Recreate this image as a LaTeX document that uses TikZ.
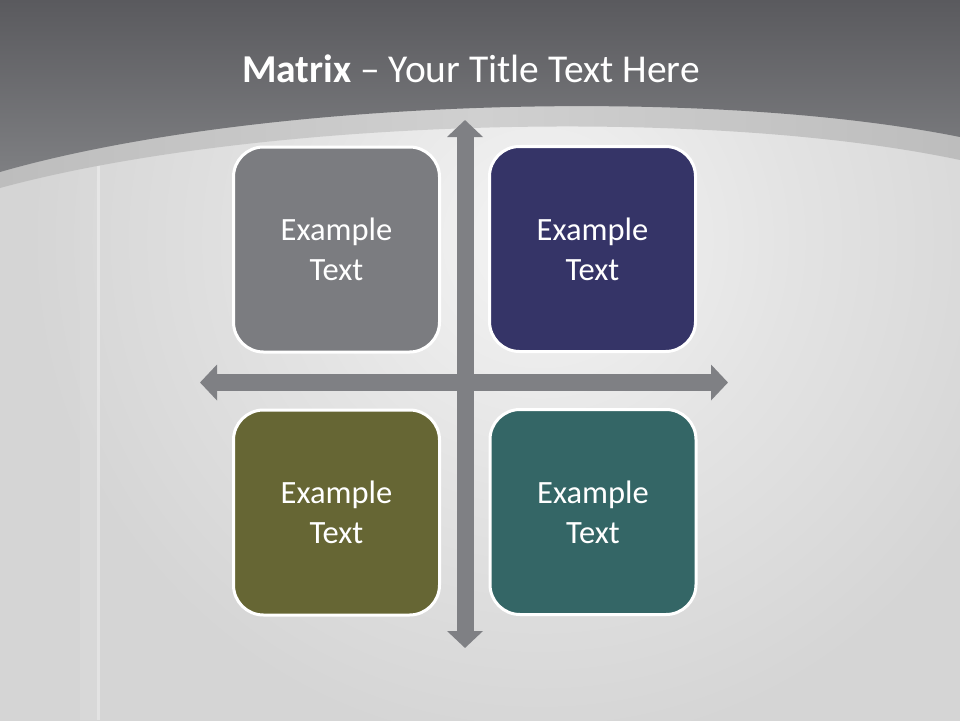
\documentclass[tikz,border=0pt]{standalone}
\usepackage{fontspec}
\setmainfont{Carlito}
\usetikzlibrary{arrows.meta}
\definecolor{hdtop}{HTML}{5A5A5E}
\definecolor{hdbot}{HTML}{7E7F82}
\definecolor{bandc}{HTML}{BDBDBD}
\definecolor{bandl}{HTML}{D0D0D0}
\definecolor{bgout}{HTML}{D5D5D5}
\definecolor{bgmid}{HTML}{E3E3E3}
\definecolor{bgin}{HTML}{F4F4F4}
\definecolor{arrowc}{HTML}{7F8084}
\definecolor{boxgray}{HTML}{7B7C80}
\definecolor{boxnavy}{HTML}{353467}
\definecolor{boxolive}{HTML}{666634}
\definecolor{boxteal}{HTML}{346666}
\pgfdeclareradialshading{bgshade}{\pgfpoint{0bp}{0bp}}{color(0bp)=(bgin); color(8bp)=(bgmid); color(16bp)=(bgout); color(50bp)=(bgout)}
\tikzset{
  quad/.style={draw=white, line width=3pt, rounded corners=30pt,
    minimum width=206pt, minimum height=205pt, inner sep=0pt,
    text=white, align=center, font=\fontsize{32.5}{40}\selectfont},
  axis/.style={draw=arrowc, line width=17pt,
    {Triangle[width=35pt,length=17pt]}-{Triangle[width=35pt,length=17pt]}},
}
\begin{document}
\begin{tikzpicture}[x=1pt,y=-1pt]
\useasboundingbox (0,0) rectangle (960,720);
% background
\fill[bgout] (0,0) rectangle (960,720);
\begin{scope}
\clip (0,0) rectangle (960,720);
\shade[shading=bgshade] (540,240) circle (800);
% left vertical stripe
\fill[black!14, opacity=0.5] (80,150) rectangle (97,720);
\fill[white, opacity=0.35] (97,150) rectangle (100,720);
% band
\shade[left color=bandc, right color=bandc, middle color=bandl]
  (0,0) -- (960,0) -- (960,160) .. controls (700,105) and (250,120) .. (0,188) -- cycle;
% header
\shade[top color=hdtop, bottom color=hdbot]
  (0,0) -- (960,0) -- (960,137) .. controls (700,85) and (250,100) .. (0,172) -- cycle;
\end{scope}
% title
\node[text=white, font=\fontsize{39.5}{44}\selectfont, anchor=base] (title) at (471,82)
  {\textbf{Matrix} – Your Title Text Here};
% axes
\coordinate (vtop) at (465,120);
\coordinate (vbot) at (465,648);
\coordinate (hleft) at (200,382.5);
\coordinate (hright) at (728,382.5);
\draw[axis] (vtop) -- (vbot);
\draw[axis] (hleft) -- (hright);
% quadrants
\node[quad, fill=boxgray] (q1) at (336.5,249.5) {Example\\Text};
\node[quad, fill=boxnavy] (q2) at (592.5,249) {Example\\Text};
\node[quad, fill=boxolive] (q3) at (336.5,512.5) {Example\\Text};
\node[quad, fill=boxteal] (q4) at (593,512) {Example\\Text};
\end{tikzpicture}
\end{document}
